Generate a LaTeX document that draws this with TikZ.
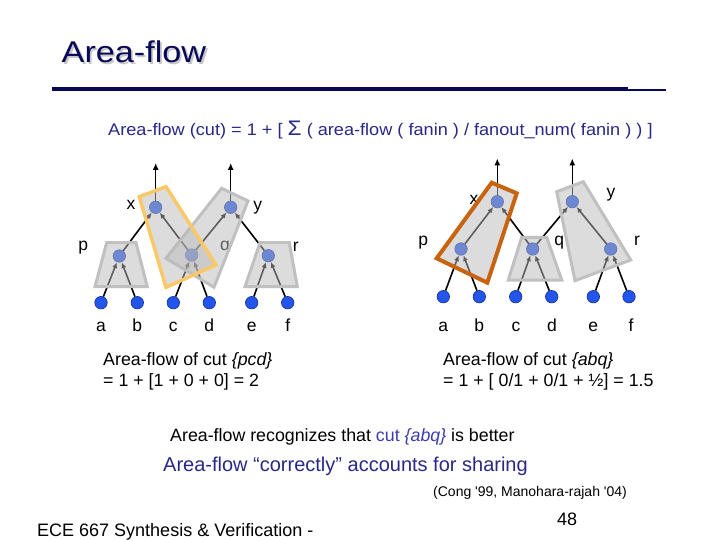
\documentclass[tikz,border=0pt]{standalone}
\usepackage{graphicx}
\usepackage{fontspec}
\setmainfont{Liberation Sans}
\usetikzlibrary{arrows.meta}
\definecolor{navy}{RGB}{8,8,88}
\definecolor{fnavy}{RGB}{40,40,135}
\definecolor{cutblue}{RGB}{60,60,175}
\definecolor{leafblue}{RGB}{35,85,235}
\definecolor{leafedge}{RGB}{20,45,150}
\definecolor{cutgray}{RGB}{186,186,186}
\definecolor{cutborder}{RGB}{192,192,192}
\definecolor{lorange}{RGB}{250,200,105}
\definecolor{dorange}{RGB}{200,100,15}
\tikzset{
  vnode/.style={circle, fill=leafblue, draw=leafedge, line width=0.6pt, minimum size=12.5pt, inner sep=0pt},
  fedge/.style={line width=1.6pt, -{Latex[length=6pt,width=5pt]}},
  outarrow/.style={line width=1.3pt, -{Latex[length=7pt,width=6pt]}},
  lbl/.style={font=\fontsize{17.5}{20}\selectfont, inner sep=0pt},
  txt/.style={font=\fontsize{17.8}{21}\selectfont, inner sep=0pt, anchor=base west},
  cutpoly/.style={fill=cutgray, fill opacity=0.5, draw=cutborder, line width=3pt, line join=miter},
  cutx1/.style={cutpoly, draw=lorange, line width=3.5pt},
  cutx2/.style={cutpoly, draw=dorange, line width=4pt},
}
\begin{document}
\begin{tikzpicture}[x=1pt,y=-1pt]
\useasboundingbox (0,0) rectangle (720,540);
% title (with its shadow in the same node)
\node[font=\fontsize{30}{32}\selectfont, text=navy, inner sep=0pt, anchor=base west] (title) at (61.5,62.5)
  {\scalebox{1.14}[1]{\makebox[0pt][l]{\hspace{1.6pt}\raisebox{-1.8pt}{\textcolor{black!22}{Area-flow}}}Area-flow}};
\coordinate (r1) at (52,89.5);
\coordinate (r2) at (628,89.5);
\coordinate (r3) at (628,90.5);
\coordinate (r4) at (666,90.5);
\draw[navy, line width=4pt] (r1) -- (r2);
\draw[navy, line width=2pt] (r3) -- (r4);
% formula
\node[txt, font=\fontsize{16.8}{19}\selectfont, text=fnavy] (formula) at (108,136) {\scalebox{1.08}[1]{Area-flow (cut) = 1 + [ {\fontsize{21}{22}\selectfont Σ} ( area-flow ( fanin ) / fanout\_num( fanin ) ) ]}};

% ===== left tree =====
\node[vnode] (La) at (101,302.7) {};
\node[vnode] (Lb) at (137.3,302.7) {};
\node[vnode] (Lc) at (173.3,302.7) {};
\node[vnode] (Ld) at (209.3,302.7) {};
\node[vnode] (Le) at (251.7,302.7) {};
\node[vnode] (Lf) at (287.7,302.7) {};
\node[vnode] (Lp) at (119.3,256) {};
\node[vnode] (Lq) at (191.7,255) {};
\node[vnode] (Lr) at (268.3,255.7) {};
\node[vnode] (Lx) at (155.7,207.3) {};
\node[vnode] (Ly) at (230.7,207.3) {};
\coordinate (Lxo) at (155.7,163);
\coordinate (Lyo) at (230.7,163);
\draw[fedge] (La) -- (Lp);
\draw[fedge] (Lb) -- (Lp);
\draw[fedge] (Lc) -- (Lq);
\draw[fedge] (Ld) -- (Lq);
\draw[fedge] (Le) -- (Lr);
\draw[fedge] (Lf) -- (Lr);
\draw[fedge] (Lp) -- (Lx);
\draw[fedge] (Lq) -- (Lx);
\draw[fedge] (Lq) -- (Ly);
\draw[fedge] (Lr) -- (Ly);
\draw[outarrow] (Lx) -- (Lxo);
\draw[outarrow] (Ly) -- (Lyo);
\node[lbl] (Llx) at (131,205) {x};
\node[lbl] (Lly) at (257.7,208) {y};
\node[lbl] (Llp) at (83.3,248) {p};
\node[lbl] (Llq) at (225,248) {q};
\node[lbl] (Llr) at (295.7,246.5) {r};
\foreach \n/\t/\xx in {la/a/101,lb/b/137.3,lc/c/173.3,ld/d/209.3,le/e/251.7,lf/f/287.7}
  \node[lbl, anchor=base] (L\n) at (\xx,331) {\t};
% cuts
\draw[cutpoly] (106.7,242.7) -- (136,242.7) -- (147.3,286.7) -- (95,286.7) -- cycle;
\draw[cutpoly] (260,242.7) -- (289.3,242.7) -- (297.3,286.7) -- (245,286.7) -- cycle;
\draw[cutpoly] (221.7,188.3) -- (248,201) -- (214,287.3) -- (166,258.3) -- cycle;
\draw[cutx1] (139.3,196.7) -- (166,186.7) -- (216,265) -- (166,287.3) -- cycle;

% ===== right tree =====
\node[vnode] (Ra) at (443.3,296.7) {};
\node[vnode] (Rb) at (479.3,296.7) {};
\node[vnode] (Rc) at (515.7,296.7) {};
\node[vnode] (Rd) at (551.7,296.7) {};
\node[vnode] (Re) at (593.3,296.7) {};
\node[vnode] (Rf) at (629,296.7) {};
\node[vnode] (Rp) at (461,249) {};
\node[vnode] (Rq) at (532.7,249) {};
\node[vnode] (Rr) at (610.7,249) {};
\node[vnode] (Rx) at (497.3,201.7) {};
\node[vnode] (Ry) at (572.3,201.7) {};
\coordinate (Rxo) at (497.3,158.5);
\coordinate (Ryo) at (572.3,158.5);
\draw[fedge] (Ra) -- (Rp);
\draw[fedge] (Rb) -- (Rp);
\draw[fedge] (Rc) -- (Rq);
\draw[fedge] (Rd) -- (Rq);
\draw[fedge] (Re) -- (Rr);
\draw[fedge] (Rf) -- (Rr);
\draw[fedge] (Rp) -- (Rx);
\draw[fedge] (Rq) -- (Rx);
\draw[fedge] (Rq) -- (Ry);
\draw[fedge] (Rr) -- (Ry);
\draw[outarrow] (Rx) -- (Rxo);
\draw[outarrow] (Ry) -- (Ryo);
\node[lbl] (Rlx) at (474,200) {x};
\node[lbl] (Rly) at (611,195) {y};
\node[lbl] (Rlp) at (423.3,243) {p};
\node[lbl] (Rlq) at (559.3,243) {q};
\node[lbl] (Rlr) at (637,240.5) {r};
\foreach \n/\t/\xx in {la/a/443.3,lb/b/479.3,lc/c/516,ld/d/552,le/e/593.3,lf/f/631}
  \node[lbl, anchor=base] (R\n) at (\xx,331) {\t};
% cuts
\draw[cutpoly] (521.7,237.3) -- (546.7,237.3) -- (561.7,280) -- (508.3,280) -- cycle;
\draw[cutpoly] (556.7,191.7) -- (583.3,181.7) -- (630.7,260) -- (575,280.7) -- cycle;
\draw[cutx2] (491.7,182.7) -- (516.7,193.3) -- (487.3,282.7) -- (436.7,258.3) -- cycle;

% ===== text =====
\node[txt] (t1) at (103,365) {Area-flow of cut \textit{\{pcd\}}};
\node[txt] (t2) at (103,386) {= 1 + [1 + 0 + 0] = 2};
\node[txt] (t3) at (443,365) {Area-flow of cut \textit{\{abq\}}};
\node[txt] (t4) at (443,386) {= 1 + [ 0/1 + 0/1 + ½] = 1.5};
\node[txt] (t5) at (170,441.5) {Area-flow recognizes that \textcolor{cutblue}{cut \textit{\{abq\}}} is better};
\node[txt, font=\fontsize{20}{23}\selectfont, text=fnavy] (t6) at (163,471.5) {Area-flow “correctly” accounts for sharing};
\node[txt, font=\fontsize{14}{16}\selectfont] (t7) at (433,496) {(Cong \textquotesingle 99, Manohara-rajah \textquotesingle 04)};
\node[txt, font=\fontsize{18}{20}\selectfont] (t8) at (557,525.5) {48};
\node[txt, font=\fontsize{18}{20}\selectfont] (t9) at (37,536.5) {ECE 667 Synthesis \& Verification -};
\end{tikzpicture}
\end{document}
